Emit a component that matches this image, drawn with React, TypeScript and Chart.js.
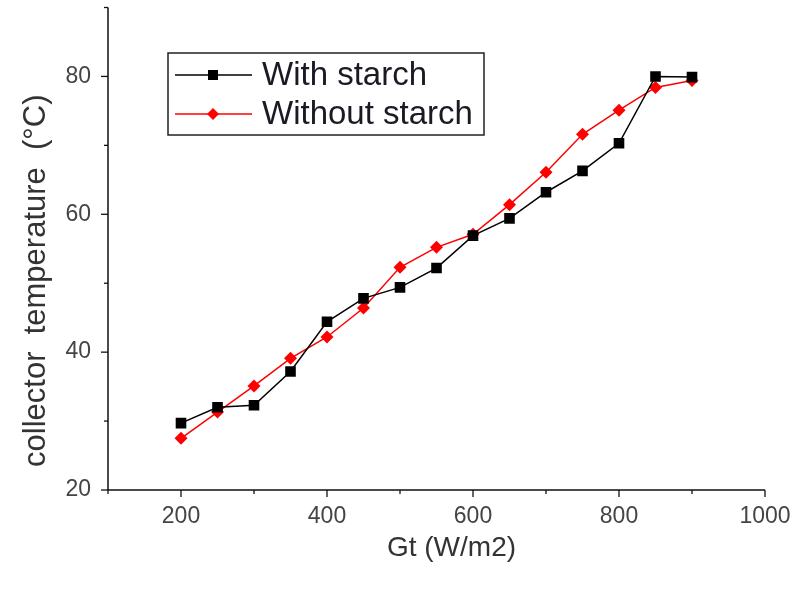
import React, { useEffect, useRef } from "react";
import { Chart, registerables } from "chart.js";

Chart.register(...registerables);

const gt = [200, 250, 300, 350, 400, 450, 500, 550, 600, 650, 700, 750, 800, 850, 900];
const withStarch = [29.7, 32.0, 32.3, 37.2, 44.4, 47.8, 49.4, 52.2, 56.9, 59.4, 63.2, 66.3, 70.3, 80.0, 79.9];
const withoutStarch = [27.5, 31.3, 35.1, 39.1, 42.2, 46.4, 52.3, 55.2, 57.1, 61.4, 66.1, 71.6, 75.1, 78.4, 79.4];
const seriesNames = ["With starch", "Without starch"];
const xTitle = "Gt (W/m2)";
const yTitle = "collector  temperature  (\u00B0C)";

const FONT = "'Liberation Sans', Arial, sans-serif";

const axesPlugin = {
  id: "originAxes",
  afterDraw(chart: any) {
    const ctx = chart.ctx;
    const { left, right, top, bottom } = chart.chartArea;
    const xs = chart.scales.x;
    const ys = chart.scales.y;
    ctx.save();
    ctx.strokeStyle = "#111";
    ctx.lineWidth = 1.5;
    ctx.beginPath();
    ctx.moveTo(left, top);
    ctx.lineTo(left, bottom);
    ctx.lineTo(right, bottom);
    ctx.stroke();
    ctx.lineWidth = 1.3;
    xs.ticks.forEach((t: any) => {
      const px = xs.getPixelForValue(t.value);
      const len = t.value % 200 === 0 ? 7 : 4;
      ctx.beginPath();
      ctx.moveTo(px, bottom);
      ctx.lineTo(px, bottom + len);
      ctx.stroke();
    });
    ys.ticks.forEach((t: any) => {
      const py = ys.getPixelForValue(t.value);
      const len = t.value % 20 === 0 ? 7 : 4;
      ctx.beginPath();
      ctx.moveTo(left, py);
      ctx.lineTo(left - len, py);
      ctx.stroke();
    });
    // axis titles
    ctx.fillStyle = "#333";
    ctx.textAlign = "center";
    ctx.textBaseline = "middle";
    ctx.font = `28px ${FONT}`;
    ctx.fillText(xTitle, (left + right) / 2 + 15, 548);
    ctx.translate(36, (top + bottom) / 2 + 32);
    ctx.rotate(-Math.PI / 2);
    ctx.font = `31px ${FONT}`;
    ctx.fillText(yTitle, 0, 0);
    ctx.restore();
  },
};

const legendPlugin = {
  id: "boxLegend",
  afterDraw(chart: any) {
    const ctx = chart.ctx;
    const bx = 168, by = 53, bw = 316, bh = 82;
    ctx.save();
    ctx.fillStyle = "#fff";
    ctx.fillRect(bx, by, bw, bh);
    ctx.strokeStyle = "#222";
    ctx.lineWidth = 1.5;
    ctx.strokeRect(bx, by, bw, bh);
    chart.data.datasets.forEach((ds: any, i: number) => {
      const cy = by + 22 + i * 39;
      ctx.strokeStyle = ds.borderColor;
      ctx.lineWidth = 1.5;
      ctx.beginPath();
      ctx.moveTo(bx + 7, cy);
      ctx.lineTo(bx + 84, cy);
      ctx.stroke();
      ctx.fillStyle = ds.pointBackgroundColor;
      const mx = bx + 45;
      if (ds.pointStyle === "rect") {
        ctx.fillRect(mx - 5, cy - 5, 10, 10);
      } else {
        ctx.beginPath();
        ctx.moveTo(mx - 6, cy);
        ctx.lineTo(mx, cy - 6);
        ctx.lineTo(mx + 6, cy);
        ctx.lineTo(mx, cy + 6);
        ctx.closePath();
        ctx.fill();
      }
      ctx.fillStyle = "#1a1a24";
      ctx.font = `33px ${FONT}`;
      ctx.textBaseline = "middle";
      ctx.textAlign = "left";
      ctx.fillText(ds.label, bx + 94, cy + 1);
    });
    ctx.restore();
  },
};

export default function App() {
  const ref = useRef<HTMLCanvasElement | null>(null);
  useEffect(() => {
    if (!ref.current) return;
    const chart = new Chart(ref.current, {
      type: "line",
      data: {
        datasets: [
          {
            label: seriesNames[0],
            data: gt.map((x, i) => ({ x, y: withStarch[i] })),
            borderColor: "#000",
            backgroundColor: "#000",
            pointBackgroundColor: "#000",
            pointBorderColor: "#000",
            pointStyle: "rect",
            pointRadius: 7.5,
            pointBorderWidth: 0,
            borderWidth: 1.5,
            tension: 0,
          },
          {
            label: seriesNames[1],
            data: gt.map((x, i) => ({ x, y: withoutStarch[i] })),
            borderColor: "#ff0000",
            backgroundColor: "#ff0000",
            pointBackgroundColor: "#ff0000",
            pointBorderColor: "#ff0000",
            pointStyle: "rectRot",
            pointRadius: 6.5,
            pointBorderWidth: 0,
            borderWidth: 1.5,
            tension: 0,
          },
        ],
      },
      options: {
        animation: false,
        responsive: false,
        layout: { padding: { left: 0, top: 7, right: 32, bottom: 0 } },
        plugins: { legend: { display: false }, tooltip: { enabled: false } },
        scales: {
          x: {
            type: "linear",
            min: 100,
            max: 1000,
            grid: { display: false, drawTicks: false },
            border: { display: false },
            ticks: {
              stepSize: 100,
              autoSkip: false,
              maxRotation: 0,
              padding: 13,
              color: "#444",
              font: { family: FONT, size: 23 },
              callback: (v: any) => (Number(v) % 200 === 0 ? String(v) : ""),
            },
            afterFit: (s: any) => {
              s.height = 100;
              s.paddingLeft = 0;
              s.paddingRight = 0;
            },
          },
          y: {
            type: "linear",
            min: 20,
            max: 90,
            grid: { display: false, drawTicks: false },
            border: { display: false },
            ticks: {
              stepSize: 10,
              autoSkip: false,
              padding: 17,
              color: "#444",
              font: { family: FONT, size: 23 },
              callback: (v: any) => (Number(v) % 20 === 0 ? String(v) : ""),
            },
            afterFit: (s: any) => {
              s.width = 108;
              s.paddingTop = 0;
              s.paddingBottom = 0;
            },
          },
        },
      },
      plugins: [axesPlugin, legendPlugin],
    });
    return () => chart.destroy();
  }, []);
  return (
    <div style={{ position: "fixed", left: 0, top: 0, width: 797, height: 590, background: "#fff" }}>
      <canvas ref={ref} width={797} height={590} />
    </div>
  );
}
